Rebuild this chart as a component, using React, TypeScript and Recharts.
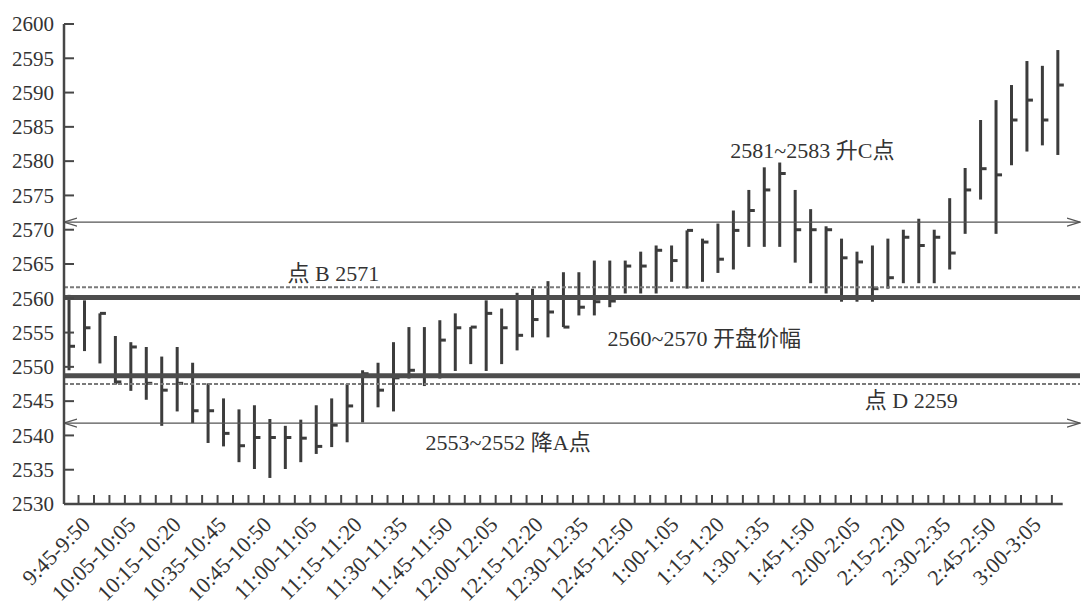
import React from "react";
import { ComposedChart, Bar, XAxis, YAxis, ReferenceLine, ReferenceDot } from "recharts";

// 5-minute bars, 9:45 through 3:05
const high = [
  2560.5, 2559.7, 2557.8, 2554.5, 2553.6, 2552.9, 2551.5, 2552.9, 2550.6, 2547.6,
  2545.4, 2543.8, 2544.4, 2542.4, 2541.4, 2542.3, 2544.4, 2545.4, 2547.5, 2549.5,
  2550.6, 2553.6, 2555.8, 2555.8, 2556.8, 2557.8, 2555.8, 2559.7, 2558.5, 2560.8,
  2561.4, 2562.5, 2563.8, 2563.8, 2565.5, 2565.5, 2565.5, 2566.8, 2567.7, 2567.7,
  2569.9, 2568.7, 2570.9, 2572.8, 2575.8, 2579.1, 2579.8, 2575.8, 2573.0, 2570.5,
  2568.7, 2566.8, 2567.7, 2568.7, 2570.0, 2571.6, 2570.0, 2574.6, 2579.0, 2586.0,
  2588.9, 2591.1, 2594.6, 2593.9, 2596.2,
];
const low = [
  2549.5, 2552.3, 2550.5, 2547.4, 2546.5, 2545.2, 2541.4, 2543.5, 2541.8, 2538.9,
  2538.4, 2536.1, 2535.1, 2533.8, 2535.1, 2536.1, 2537.3, 2538.3, 2539.0, 2541.9,
  2544.1, 2543.5, 2548.3, 2547.2, 2548.3, 2549.4, 2550.4, 2549.4, 2550.4, 2552.4,
  2554.3, 2554.3, 2555.8, 2557.5, 2557.5, 2558.7, 2560.7, 2560.7, 2560.7, 2562.4,
  2561.4, 2562.4, 2563.7, 2564.2, 2567.5, 2567.5, 2567.5, 2565.2, 2562.2, 2560.7,
  2559.5, 2559.5, 2559.5, 2561.4, 2562.2, 2562.2, 2562.2, 2564.2, 2569.4, 2574.4,
  2569.4, 2579.4, 2581.4, 2582.3, 2580.9,
];
const close = [
  2553.0, 2555.7, 2557.8, 2547.8, 2552.9, 2547.6, 2546.6, 2547.6, 2543.6, 2543.6,
  2540.3, 2538.5, 2539.7, 2539.7, 2539.7, 2539.6, 2538.4, 2541.5, 2544.3, 2549.0,
  2546.6, 2548.4, 2549.5, 2548.6, 2553.9, 2555.7, 2555.8, 2557.8, 2555.7, 2554.6,
  2556.9, 2558.0, 2555.8, 2558.7, 2559.5, 2559.6, 2564.7, 2564.7, 2567.0, 2565.5,
  2569.9, 2568.2, 2565.7, 2569.9, 2572.8, 2575.8, 2578.2, 2570.0, 2570.0, 2570.0,
  2565.9, 2565.3, 2561.4, 2563.0, 2568.9, 2567.7, 2568.9, 2566.6, 2575.8, 2578.9,
  2578.0, 2586.0, 2588.9, 2586.0, 2591.1,
];

const timeLabels = [
  "9:45-9:50", "10:05-10:05", "10:15-10:20", "10:35-10:45", "10:45-10:50", "11:00-11:05",
  "11:15-11:20", "11:30-11:35", "11:45-11:50", "12:00-12:05", "12:15-12:20", "12:30-12:35",
  "12:45-12:50", "1:00-1:05", "1:15-1:20", "1:30-1:35", "1:45-1:50", "2:00-2:05",
  "2:15-2:20", "2:30-2:35", "2:45-2:50", "3:00-3:05",
];

const yTicks = [2530, 2535, 2540, 2545, 2550, 2555, 2560, 2565, 2570, 2575, 2580, 2585, 2590, 2595, 2600];

// reference levels drawn across the chart
const openRange = [2560.1, 2548.7];
const dottedLevels = [2561.6, 2547.5];
const arrowLevels = [2571.1, 2541.8];

const data = high.map((h, i) => ({ idx: i, high: h, low: low[i], close: close[i] }));

const xDomain = [-0.34, 65.42];
const minorTicks = Array.from({ length: 64 }, (_, j) => j + 0.6);
const labelTicks = timeLabels.map((_, k) => 1.45 + k * 2.93);

const ink = "#3c3c3c";
const axisInk = "#474747";
const textInk = "#333";
const serif = "'Liberation Serif', 'Noto Sans CJK SC', serif";

const OhlcShape = (props: any) => {
  const { x, y, width, height, payload } = props;
  if (x == null || y == null) return null;
  const top = Math.min(y, y + height);
  const bottom = Math.max(y, y + height);
  const cx = x + width / 2;
  const span = payload.high - payload.low;
  const cy = span > 0 ? top + ((payload.high - payload.close) / span) * (bottom - top) : top;
  return (
    <g>
      <line x1={cx} x2={cx} y1={top} y2={bottom} stroke={ink} strokeWidth={3} />
      <line x1={cx} x2={cx + 6} y1={cy} y2={cy} stroke={ink} strokeWidth={3} />
    </g>
  );
};

const YTick = ({ x, y, payload }: any) => (
  <g>
    <line x1={x} x2={x + 10} y1={y} y2={y} stroke={axisInk} strokeWidth={2} />
    <text x={x - 10} y={y} dy="0.35em" textAnchor="end" fontSize={21} fill={textInk} fontFamily={serif}>
      {payload.value}
    </text>
  </g>
);

const XTick = ({ x, y, payload }: any) => {
  const k = labelTicks.indexOf(payload.value);
  if (k < 0) {
    return <line x1={x} x2={x} y1={y} y2={y - 9} stroke={axisInk} strokeWidth={2} />;
  }
  return (
    <text
      transform={`translate(${x},${y + 22}) rotate(-45)`}
      textAnchor="end"
      fontSize={22}
      fill={textInk}
      fontFamily={serif}
    >
      {timeLabels[k]}
    </text>
  );
};

const ArrowLine = (p: any) => (
  <g>
    <defs>
      <marker id="arrowHead" markerWidth="14" markerHeight="10" refX="13" refY="5" orient="auto-start-reverse" markerUnits="userSpaceOnUse">
        <path d="M0,1 L13,5 L0,9" fill="none" stroke="#555" strokeWidth={1.3} />
      </marker>
    </defs>
    <line x1={p.x1} y1={p.y1} x2={p.x2} y2={p.y2} stroke="#555" strokeWidth={1.4} markerStart="url(#arrowHead)" markerEnd="url(#arrowHead)" />
  </g>
);

const note = (text: string) => (p: any) => (
  <text x={p.cx} y={p.cy} dy="0.35em" textAnchor="middle" fontSize={22} fill={textInk} fontFamily={serif}>
    {text}
  </text>
);

export default function App() {
  return (
    <div style={{ position: "absolute", left: 0, top: 0, background: "#fff" }}>
      <ComposedChart width={1089} height={616} data={data} margin={{ top: 24, right: 9, left: 0, bottom: 0 }}>
        <XAxis
          type="number"
          dataKey="idx"
          domain={xDomain}
          allowDataOverflow
          ticks={[...minorTicks, ...labelTicks]}
          interval={0}
          tick={<XTick />}
          tickLine={false}
          axisLine={false}
          tickSize={0}
          tickMargin={0}
          height={112}
        />
        <YAxis
          type="number"
          domain={[2530, 2600]}
          allowDataOverflow
          ticks={yTicks}
          interval={0}
          tick={<YTick />}
          tickLine={false}
          tickSize={0}
          tickMargin={0}
          axisLine={{ stroke: axisInk, strokeWidth: 2.5 }}
          width={64}
        />

        {dottedLevels.map((v) => (
          <ReferenceLine key={`d${v}`} y={v} stroke="#7a7a7a" strokeWidth={2} strokeDasharray="4 2" />
        ))}
        {openRange.map((v) => (
          <ReferenceLine key={`o${v}`} y={v} stroke="#4d4d4d" strokeWidth={5} />
        ))}
        {arrowLevels.map((v) => (
          <ReferenceLine key={`a${v}`} y={v} shape={ArrowLine} />
        ))}
        <ReferenceLine
          segment={[{ x: xDomain[0], y: 2530 }, { x: 64.3, y: 2530 }]}
          stroke={axisInk}
          strokeWidth={2.5}
        />

        <Bar dataKey={(d: any) => [d.low, d.high]} barSize={3} shape={OhlcShape} isAnimationActive={false} />

        <ReferenceDot x={48.1} y={2581.6} r={1} shape={note("2581~2583 升C点")} />
        <ReferenceDot x={17.1} y={2563.6} r={1} shape={note("点 B 2571")} />
        <ReferenceDot x={41.1} y={2554.2} r={1} shape={note("2560~2570 开盘价幅")} />
        <ReferenceDot x={54.5} y={2545.1} r={1} shape={note("点 D 2259")} />
        <ReferenceDot x={28.4} y={2539.0} r={1} shape={note("2553~2552 降A点")} />
      </ComposedChart>
    </div>
  );
}
